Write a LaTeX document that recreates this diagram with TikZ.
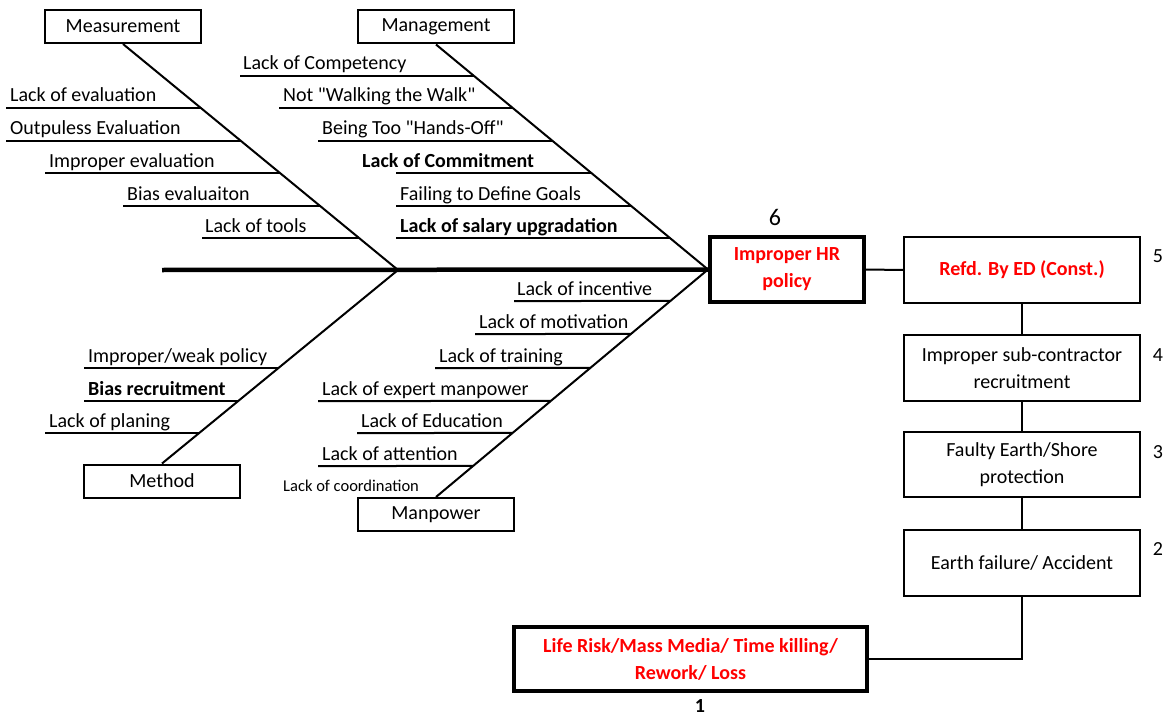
\documentclass[tikz,border=0pt]{standalone}
\usepackage{fontspec}
\setmainfont{Carlito}
\definecolor{alert}{RGB}{255,0,0}

% A rib of the fishbone: a horizontal line from a free start point to the
% branch line (#2)--(#3), with its label set just above it.
% #1 name, #2/#3 branch ends, #4 y, #5 x of the line start, #6 x of the label, #7 label
\newcommand\fishrib[7]{%
  \coordinate (#1-s) at (#5,#4);
  \coordinate (#1-e) at (intersection cs: first line={(#2)--(#3)}, second line={(0,#4)--(1,#4)});
  \draw[ribline] (#1-s) -- (#1-e);
  \node[lbl] (#1) at (#6,#4-6) {#7};
}
\newcommand\dq{\textquotedbl}

\begin{document}
\begin{tikzpicture}[x=1pt,y=-1pt,
  txt/.style={font=\fontsize{20}{24}\selectfont},
  lbl/.style={txt, anchor=base west, inner sep=0pt},
  ribline/.style={line width=2pt},
  branch/.style={line width=2pt},
  spine/.style={line width=4.5pt},
  catbox/.style={txt, draw, line width=2pt, minimum width=156pt, minimum height=33pt, inner sep=0pt},
  stepbox/.style={txt, draw, line width=2pt, minimum width=236pt, minimum height=66pt, inner sep=0pt, align=center, font=\fontsize{20}{27}\selectfont},
  keybox/.style={draw, line width=4pt, inner sep=0pt, align=center, text=alert, font=\fontsize{20}{27}\selectfont\bfseries},
  num/.style={txt, inner sep=0pt},
  link/.style={line width=2pt}]
\useasboundingbox (0,0) rectangle (1176,717);

% category boxes
\node[catbox] (meas) at (123,26.5) {Measurement};
\node[catbox] (mgmt) at (436,27) {Management};
\node[catbox] (meth) at (162,481) {Method};
\node[catbox] (manp) at (436,514.5) {Manpower};

% head of the fish
\node[keybox, minimum width=154pt, minimum height=65pt] (hr) at (787,269.5) {Improper HR\\policy};
\node[num, font=\fontsize{24}{28}\selectfont] (n6) at (775,217) {6};

% spine and branches
\coordinate (tail) at (162,270);
\coordinate (j1) at (398,270);
\draw[spine] (tail) -- (hr.west);
\draw[branch] (meas.south) -- (j1);
\draw[branch] (meth.north) -- (j1);
\draw[branch] (mgmt.south) -- (hr.west);
\draw[branch] (manp.north) -- (hr.west);

% Measurement
\fishrib{ms1}{meas.south}{j1}{108}{6}{10}{Lack of evaluation}
\fishrib{ms2}{meas.south}{j1}{141}{6}{10}{Outpuless Evaluation}
\fishrib{ms3}{meas.south}{j1}{173}{45}{49}{Improper evaluation}
\fishrib{ms4}{meas.south}{j1}{206}{123}{127}{Bias evaluaiton}
\fishrib{ms5}{meas.south}{j1}{238}{202}{205}{Lack of tools}

% Management
\fishrib{mg1}{mgmt.south}{hr.west}{76}{240}{243}{Lack of Competency}
\fishrib{mg2}{mgmt.south}{hr.west}{108}{279}{283}{Not \dq Walking the Walk\dq}
\fishrib{mg3}{mgmt.south}{hr.west}{141}{318}{322}{Being Too \dq Hands-Off\dq}
\fishrib{mg4}{mgmt.south}{hr.west}{173}{396}{362}{\bfseries Lack of Commitment}
\fishrib{mg5}{mgmt.south}{hr.west}{206}{396}{400}{Failing to Define Goals}
\fishrib{mg6}{mgmt.south}{hr.west}{238}{396}{400}{\bfseries Lack of salary upgradation}

% Method
\fishrib{mt1}{j1}{meth.north}{368}{84}{88}{Improper/weak policy}
\fishrib{mt2}{j1}{meth.north}{401}{84}{88}{\bfseries Bias recruitment}
\fishrib{mt3}{j1}{meth.north}{433}{45}{49}{Lack of planing}

% Manpower
\fishrib{mp1}{manp.north}{hr.west}{301}{514}{517}{Lack of incentive}
\fishrib{mp2}{manp.north}{hr.west}{334}{475}{479}{Lack of motivation}
\fishrib{mp3}{manp.north}{hr.west}{368}{435}{439}{Lack of training}
\fishrib{mp4}{manp.north}{hr.west}{401}{318}{322}{Lack of expert manpower}
\fishrib{mp5}{manp.north}{hr.west}{433}{357}{361}{Lack of Education}
\fishrib{mp6}{manp.north}{hr.west}{466}{318}{322}{Lack of attention}
\node[lbl, font=\fontsize{16.5}{19}\selectfont] (mp7) at (283,491) {Lack of coordination};

% chain of consequences
\node[stepbox, text=alert, font=\fontsize{20}{27}\selectfont\bfseries] (s5) at (1022,270) {Refd. By ED (Const.)};
\node[stepbox] (s4) at (1022,368) {Improper sub-contractor\\recruitment};
\node[stepbox, minimum height=65pt] (s3) at (1022,464.5) {Faulty Earth/Shore\\protection};
\node[stepbox] (s2) at (1022,563) {Earth failure/ Accident};
\node[keybox, minimum width=353pt, minimum height=64pt] (s1) at (690.5,659) {Life Risk/Mass Media/ Time killing/\\Rework/ Loss};

\node[num] (n5) at (1158,256) {5};
\node[num] (n4) at (1158,355) {4};
\node[num] (n3) at (1158,452) {3};
\node[num] (n2) at (1158,549) {2};
\node[num, font=\fontsize{20}{24}\selectfont\bfseries] (n1) at (700,706) {1};

\draw[link] (hr.east) -- (s5.west);
\draw[link] (s5.south) -- (s4.north);
\draw[link] (s4.south) -- (s3.north);
\draw[link] (s3.south) -- (s2.north);
\draw[link] (s2.south) |- (s1.east);
\end{tikzpicture}
\end{document}
